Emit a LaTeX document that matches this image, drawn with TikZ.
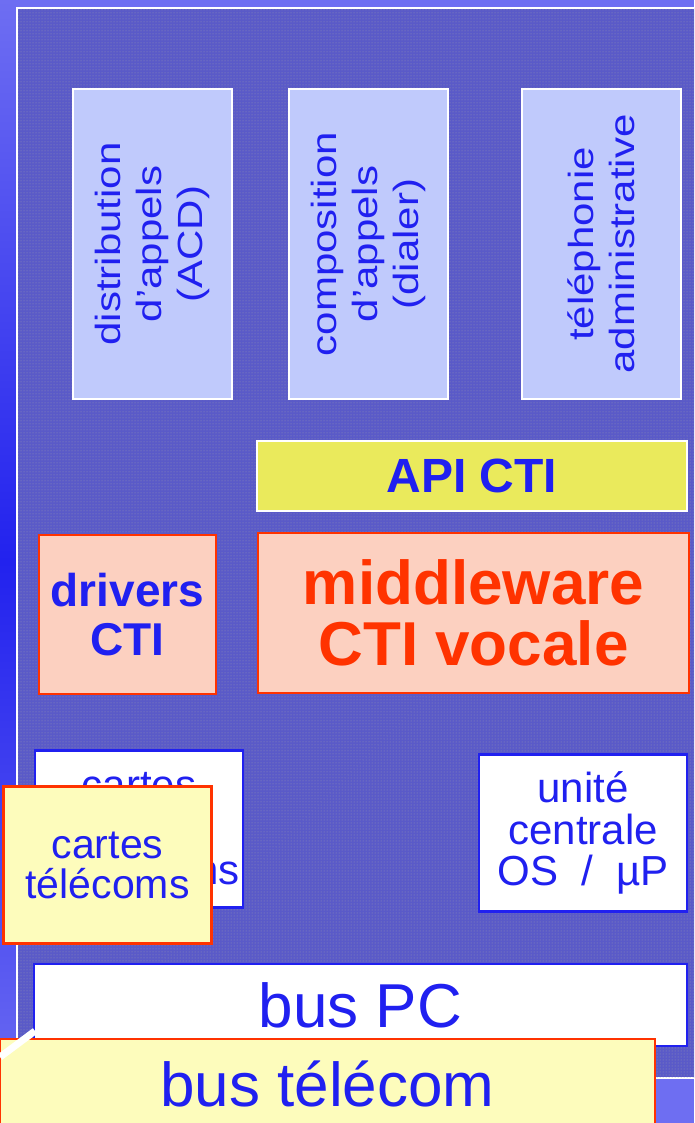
\documentclass[tikz,border=0pt]{standalone}
\usepackage{fontspec}
\setmainfont{Liberation Sans}
\newfontfamily\stretchsf[FakeStretch=1.2]{Liberation Sans}
\usetikzlibrary{patterns}
\definecolor{txtblue}{RGB}{32,32,240}
\definecolor{ctired}{RGB}{255,51,0}
\definecolor{lavbox}{RGB}{192,202,252}
\definecolor{apiyel}{RGB}{234,234,92}
\definecolor{peach}{RGB}{252,208,192}
\definecolor{paleyel}{RGB}{253,252,188}
\definecolor{skyblue}{RGB}{110,110,242}
\definecolor{deepblue}{RGB}{34,34,238}
\definecolor{panelblue}{RGB}{90,90,200}
\definecolor{dotgray}{RGB}{150,150,178}

\begin{document}
\begin{tikzpicture}[x=1pt,y=-1pt,
    appbox/.style={rotate=90,draw=white,line width=2pt,fill=lavbox,
        minimum width=310pt,minimum height=159pt,inner sep=0pt,align=center,
        text=txtblue,font=\stretchsf\fontsize{35}{41}\selectfont},
    apibox/.style={draw=white,line width=2pt,fill=apiyel,minimum width=430pt,
        minimum height=70pt,text=txtblue,font=\bfseries\fontsize{48}{50}\selectfont},
    midbox/.style={draw=ctired,line width=2pt,fill=peach,minimum width=431pt,
        minimum height=160pt,align=center,text=ctired,
        font=\bfseries\fontsize{62}{61}\selectfont},
    drvbox/.style={draw=ctired,line width=2pt,fill=peach,minimum width=177pt,
        minimum height=159pt,align=center,text=txtblue,
        font=\bfseries\fontsize{46}{49}\selectfont},
    hwbox/.style={draw=txtblue,line width=2.5pt,fill=white,minimum width=208pt,
        minimum height=157pt,align=center,text=txtblue,
        font=\fontsize{42}{41.5}\selectfont},
    cardbox/.style={draw=ctired,line width=2.5pt,fill=paleyel,minimum width=208pt,
        minimum height=157pt,align=center,text=txtblue,
        font=\fontsize{41}{40}\selectfont},
    busbox/.style={line width=2.5pt,minimum height=82pt,text=txtblue,
        font=\fontsize{62}{62}\selectfont}]
    \useasboundingbox (0,0) rectangle (694,1123);
    \clip (0,0) rectangle (694,1123);

    % background and panel
    \fill[skyblue] (0,0) rectangle (694,1123);
    \shade[top color=skyblue,bottom color=skyblue,middle color=deepblue] (0,0) rectangle (16,1123);
    \filldraw[draw=white,line width=2pt,fill=panelblue] (17,8) rectangle (720,1078);
    \fill[pattern=dots,pattern color=dotgray] (18,9) rectangle (720,1077);

    % applications
    \node[appbox] (acd) at (152.5,244) {distribution\\d’appels\\(ACD)};
    \node[appbox] (dialer) at (368.5,244) {composition\\d’appels\\(dialer)};
    \node[appbox] (admin) at (601.5,244) {téléphonie\\administrative};

    \node[apibox] (api) at (472,476) {API CTI};
    \node[midbox] (mid) at (473.5,613) {middleware\\CTI vocale};
    \node[drvbox] (drv) at (127.5,614.5) {drivers\\CTI};

    % hardware
    \node[hwbox] (cartesbk) at (139,829) {cartes\\[43.5pt]extensions};
    \node[hwbox] (cpu) at (583,833) {unité\\centrale\\OS~~/~~µP};
    \node[cardbox] (cartes) at (107.5,865) {cartes\\télécoms};

    \node[busbox,draw=txtblue,fill=white,minimum width=653pt] (buspc) at (360.5,1005) {bus PC};
    \node[busbox,draw=ctired,fill=paleyel,minimum width=655pt,minimum height=90pt] (bustel) at (327.5,1084) {bus télécom};
    \draw[white,line width=7pt] (0,1057) -- (35,1031);
\end{tikzpicture}
\end{document}
